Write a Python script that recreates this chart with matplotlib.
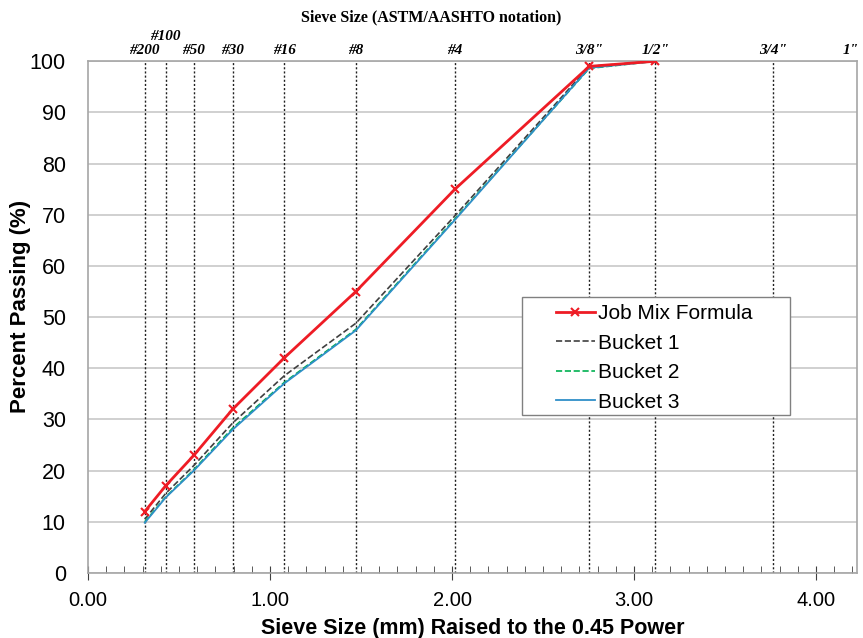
import numpy as np
import matplotlib.pyplot as plt
from matplotlib.ticker import MultipleLocator
from matplotlib.patches import Rectangle
import matplotlib.transforms as mtransforms

plt.rcParams['font.family'] = ['Liberation Sans', 'DejaVu Sans']

# sieve openings (mm) and their names
sieve_mm = [0.075, 0.15, 0.3, 0.6, 1.18, 2.36, 4.75, 9.5, 12.5]
sieve_names = ['#200', '#100', '#50', '#30', '#16', '#8', '#4', '3/8"', '1/2"']
extra_mm = [19.0, 25.0]
extra_names = ['3/4"', '1"']

jmf = [12, 17, 23, 32, 42, 55, 75, 99, 100]
bucket1 = [10.5, 15.5, 21, 29.3, 38.5, 48.8, 69.8, 99, 100]
bucket2 = [10, 14.8, 20.2, 28.3, 37.2, 47.6, 69.2, 98.6, 100]
bucket3 = [9.8, 14.7, 20, 28.0, 37.0, 47.4, 69.0, 98.7, 100]

x = np.array(sieve_mm) ** 0.45
x_all = np.array(sieve_mm + extra_mm) ** 0.45
names_all = sieve_names + extra_names

fig = plt.figure(figsize=(8.63, 6.38), dpi=100)
ax = fig.add_axes([0.102, 0.102, 0.891, 0.802])

for i in range(0, 101, 10):
    ax.axhline(i, color='#c8c8c8', lw=1.2, zorder=0)
for xv in x_all:
    ax.axvline(xv, color='#202020', lw=1.0, ls=(0, (1.5, 1.5)), zorder=1)

ax.plot(x, bucket1, color='#404040', ls='--', lw=1.2, label='Bucket 1', zorder=3)
ax.plot(x, bucket2, color='#00b050', ls='--', lw=1.2, label='Bucket 2', zorder=3)
ax.plot(x, bucket3, color='#2f8fc8', lw=1.3, label='Bucket 3', zorder=3)
ax.plot(x, jmf, color='#ee1c25', lw=2.0, marker='x', ms=6, mew=1.5,
        label='Job Mix Formula', zorder=4)

ax.set_xlim(0, 4.225)
ax.set_ylim(0, 100)
ax.xaxis.set_minor_locator(MultipleLocator(0.1))
ax.yaxis.set_major_locator(MultipleLocator(10))
ax.set_xticks(np.arange(0, 5, 1))
ax.set_xticklabels(['%.2f' % v for v in np.arange(0, 5, 1)])
ax.tick_params(axis='x', which='major', direction='inout', length=10, labelsize=14.5,
               colors='#404040', labelcolor='black', pad=8)
ax.tick_params(axis='x', which='minor', direction='in', length=5, colors='#404040')
ax.tick_params(axis='y', which='major', length=0, labelsize=15.5, pad=16)
for s in ax.spines.values():
    s.set_color('#a6a6a6')
    s.set_linewidth(1.2)

ax.set_xlabel('Sieve Size (mm) Raised to the 0.45 Power', fontsize=15.5, fontweight='bold', labelpad=6)
ax.set_ylabel('Percent Passing (%)', fontsize=16, fontweight='bold')
ax.yaxis.set_label_coords(-0.074, 0.52)

trans = mtransforms.blended_transform_factory(ax.transData, ax.transAxes)
for xv, nm in zip(x_all, names_all):
    yy = 1.035 if nm == '#100' else 1.008
    xp = min(xv, 4.19)
    ax.text(xp, yy, nm, transform=trans, ha='center', va='bottom', fontsize=11,
            fontweight='bold', style='italic', family='Liberation Serif')
fig.text(0.5, 0.972, 'Sieve Size (ASTM/AASHTO notation)', ha='center', va='center',
         fontsize=11.5, fontweight='bold', family='Liberation Serif')

# legend box drawn separately so it can be wider than its entries
ax.add_patch(Rectangle((0.564, 0.309), 0.349, 0.230, transform=ax.transAxes,
                       facecolor='white', edgecolor='#808080', lw=1.0, zorder=5))
handles, labels = ax.get_legend_handles_labels()
order = [3, 0, 1, 2]
leg = ax.legend([handles[i] for i in order], [labels[i] for i in order],
                loc='upper left', bbox_to_anchor=(0.608, 0.525), fontsize=15,
                frameon=False, handlelength=1.9, handletextpad=0.15,
                borderpad=0, labelspacing=0.5, borderaxespad=0)
leg.set_zorder(6)

fig.savefig('out.png', dpi=100)
